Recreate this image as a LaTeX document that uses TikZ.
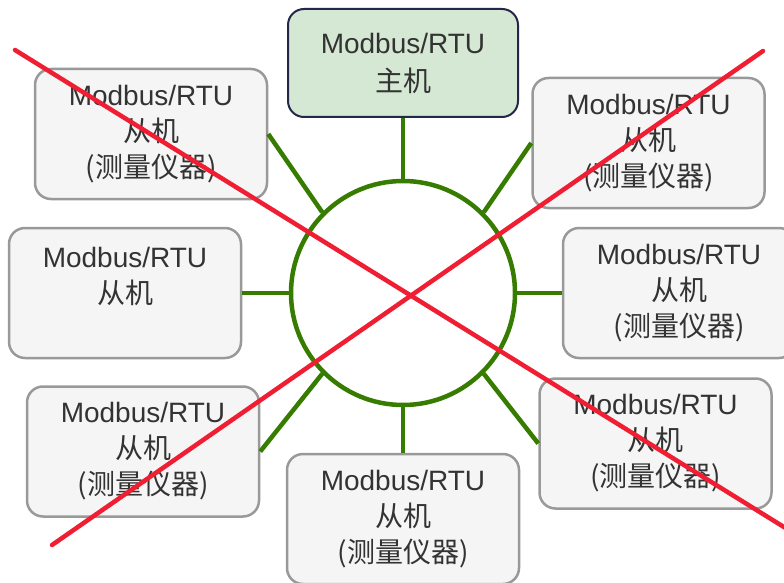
\documentclass[tikz,border=0pt]{standalone}
\usepackage{fontspec}
\usepackage{tikz}
\setmainfont{Liberation Sans}
\newfontfamily\cjk{Noto Sans CJK SC}
\definecolor{bus_green}{HTML}{367C00}
\definecolor{master_fill}{HTML}{D5E8D4}
\definecolor{master_border}{HTML}{23284A}
\definecolor{slave_fill}{HTML}{F5F5F5}
\definecolor{slave_border}{HTML}{999999}
\definecolor{label_gray}{HTML}{333333}
\definecolor{cross_red}{HTML}{F01E32}

\begin{document}
\begin{tikzpicture}[
	x = 1pt, y = -1pt,
	slave/.style = {draw=slave_border, fill=slave_fill, rounded corners=16pt, line width=2.5pt, minimum width=232pt, minimum height=130pt, inner sep=0pt, align=center, text=label_gray},
	master/.style = {draw=master_border, fill=master_fill, rounded corners=16pt, line width=2pt, minimum width=230pt, minimum height=108pt, inner sep=0pt, align=center, text=label_gray},
	bus/.style = {draw=bus_green, circle, line width=4.5pt, minimum size=224pt, inner sep=0pt},
	link/.style = {draw=bus_green, line width=4.5pt},
	cross/.style = {draw=cross_red, line width=4.5pt, line cap=round},
]
\tikzstyle{every node}=[font=\fontsize{28}{36}\selectfont]
\useasboundingbox (0,0) rectangle (784,583);

% Define vertices
\node[bus] (Bus) at (403,293) {};
\node[master, font=\fontsize{28}{38}\selectfont] (Master) at (403,63) {Modbus/RTU\\{\cjk 主机}};
\node[slave] (SlaveTL) at (151,134) {Modbus/RTU\\{\cjk 从机}\\{\cjk (测量仪器)}};
\node[slave] (SlaveTR) at (648.5,143) {Modbus/RTU\\{\cjk 从机}\\{\cjk (测量仪器)}};
\node[slave] (SlaveL) at (125,293) {Modbus/RTU\\{\cjk 从机}\\\mbox{}};
\node[slave] (SlaveR) at (679,293) {Modbus/RTU\\{\cjk 从机}\\{\cjk (测量仪器)}};
\node[slave] (SlaveBL) at (143,451.5) {Modbus/RTU\\{\cjk 从机}\\{\cjk (测量仪器)}};
\node[slave] (SlaveB) at (403,519) {Modbus/RTU\\{\cjk 从机}\\{\cjk (测量仪器)}};
\node[slave] (SlaveBR) at (655.5,443.5) {Modbus/RTU\\{\cjk 从机}\\{\cjk (测量仪器)}};

% Draw links to the bus
\path[link] (Master) -- (Bus);
\path[link] (SlaveB) -- (Bus);
\path[link] (SlaveL) -- (Bus);
\path[link] (SlaveR) -- (Bus);
\path[link] (SlaveTL.east) -- (Bus.135);
\path[link] (SlaveTR.west) -- (Bus.45);
\path[link] (SlaveBL.east) -- (Bus.-135);
\path[link] (SlaveBR.west) -- (Bus.-45);

% Cross out
\coordinate (CrossA1) at (15,50);
\coordinate (CrossA2) at (800,537);
\coordinate (CrossB1) at (52,545);
\coordinate (CrossB2) at (763,51);
\path[cross] (CrossA1) -- (CrossA2);
\path[cross] (CrossB1) -- (CrossB2);
\end{tikzpicture}
\end{document}
